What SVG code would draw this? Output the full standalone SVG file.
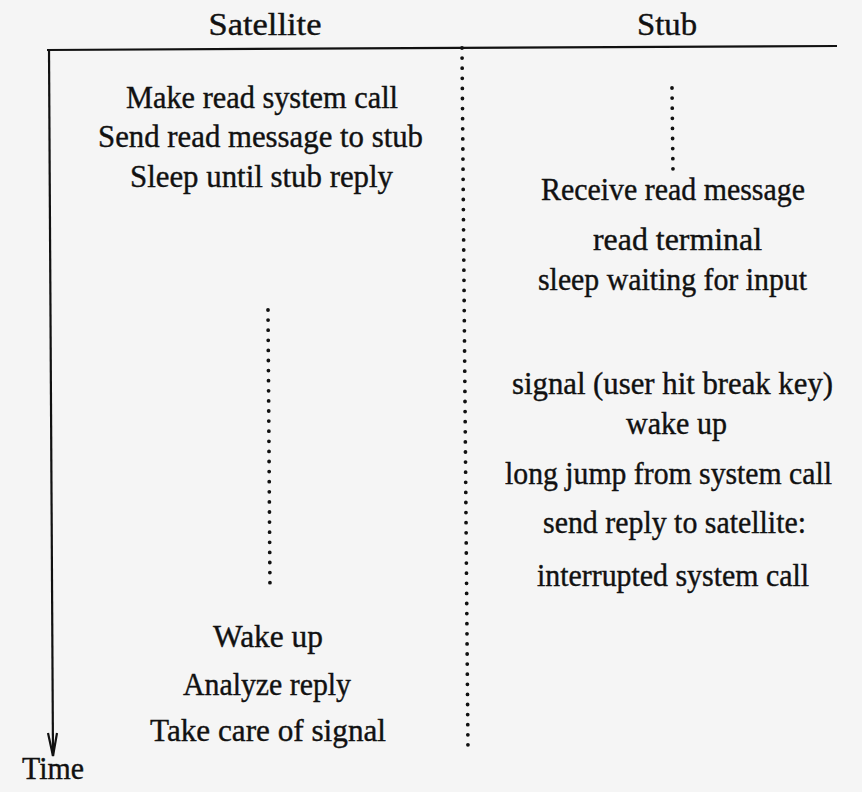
<svg xmlns="http://www.w3.org/2000/svg" width="862" height="792" viewBox="0 0 862 792">
<defs>
<style>
text{font-family:"Liberation Serif","Times New Roman",serif;font-size:32px;fill:#111;stroke:#111;stroke-width:0.4;text-anchor:middle}
.dots{stroke:#111;stroke-width:3.8;stroke-linecap:round;stroke-dasharray:0 10.1;fill:none}
.ax{stroke:#111;stroke-width:2.2;fill:none}
</style>
</defs>
<rect width="862" height="792" fill="#f5f5f5"/>
<g id="connectors">
<path class="ax" d="M47,50 L837,46"/>
<path class="ax" d="M49,50 L53,756"/>
<path class="ax" d="M48,733 L53,756 L57,733"/>
<path class="dots" d="M462,48 L468,752"/>
<path class="dots" d="M268,310 L270,590"/>
<path class="dots" d="M672,88 L673,172"/>
</g>
<g id="satellite"><text x="265" y="35" textLength="113" lengthAdjust="spacingAndGlyphs">Satellite</text></g>
<g id="stub"><text x="667" y="35" textLength="60" lengthAdjust="spacingAndGlyphs">Stub</text></g>
<g id="time"><text x="53" y="779" textLength="62" lengthAdjust="spacingAndGlyphs">Time</text></g>
<g id="s1"><text x="262" y="108" textLength="272" lengthAdjust="spacingAndGlyphs">Make read system call</text></g>
<g id="s2"><text x="260.5" y="147" textLength="325" lengthAdjust="spacingAndGlyphs">Send read message to stub</text></g>
<g id="s3"><text x="261.5" y="187" textLength="263" lengthAdjust="spacingAndGlyphs">Sleep until stub reply</text></g>
<g id="t1"><text x="673" y="200" textLength="264" lengthAdjust="spacingAndGlyphs">Receive read message</text></g>
<g id="t2"><text x="677.5" y="250" textLength="169" lengthAdjust="spacingAndGlyphs">read terminal</text></g>
<g id="t3"><text x="672.5" y="290" textLength="269" lengthAdjust="spacingAndGlyphs">sleep waiting for input</text></g>
<g id="t4"><text x="672.5" y="394" textLength="321" lengthAdjust="spacingAndGlyphs">signal (user hit break key)</text></g>
<g id="t5"><text x="676.5" y="434" textLength="101" lengthAdjust="spacingAndGlyphs">wake up</text></g>
<g id="t6"><text x="668.5" y="484" textLength="327" lengthAdjust="spacingAndGlyphs">long jump from system call</text></g>
<g id="t7"><text x="674.5" y="533" textLength="263" lengthAdjust="spacingAndGlyphs">send reply to satellite:</text></g>
<g id="t8"><text x="673" y="586" textLength="272" lengthAdjust="spacingAndGlyphs">interrupted system call</text></g>
<g id="s4"><text x="268" y="647" textLength="110" lengthAdjust="spacingAndGlyphs">Wake up</text></g>
<g id="s5"><text x="267" y="695" textLength="168" lengthAdjust="spacingAndGlyphs">Analyze reply</text></g>
<g id="s6"><text x="268" y="741" textLength="236" lengthAdjust="spacingAndGlyphs">Take care of signal</text></g>
</svg>
